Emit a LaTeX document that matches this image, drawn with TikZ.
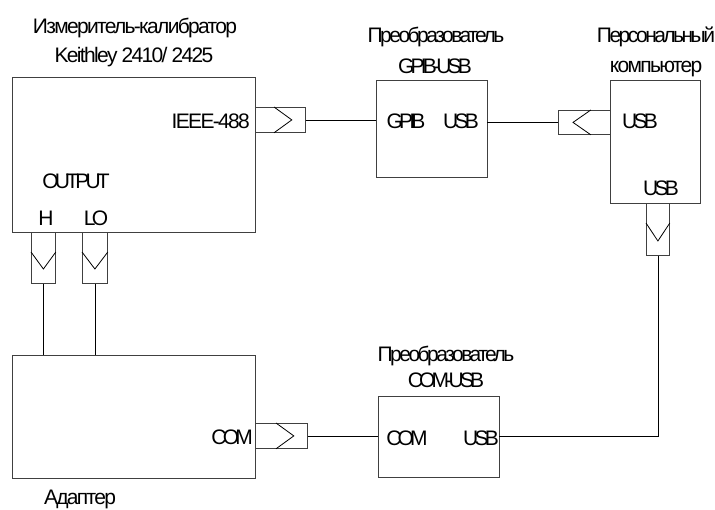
\documentclass[tikz,border=0pt]{standalone}
\usepackage{fontspec}
\setmainfont{Liberation Sans}
\newfontfamily\lowf[LetterSpace=-8]{Liberation Sans}
\newfontfamily\midf[LetterSpace=-12]{Liberation Sans}
\newfontfamily\capf[LetterSpace=-18]{Liberation Sans}
\begin{document}
\begin{tikzpicture}[x=1pt,y=-1pt,
  box/.style={draw=black!75, line width=0.9pt, rectangle, inner sep=0pt},
  port/.style={draw=black!75, line width=0.8pt, rectangle, inner sep=0pt},
  wire/.style={line width=0.8pt, black},
  chev/.style={line width=0.8pt, black},
  lw/.style={inner sep=0pt, font=\fontsize{21}{25}\lowf},
  lm/.style={inner sep=0pt, font=\fontsize{21}{25}\midf},
  lc/.style={inner sep=0pt, font=\fontsize{21}{25}\capf}]
\useasboundingbox (0,0) rectangle (715,509);
% boxes
\node[box, minimum width=243pt, minimum height=155pt] (keith) at (133.5,154.5) {};
\node[box, minimum width=111pt, minimum height=97pt] (gpib) at (431.5,128.5) {};
\node[box, minimum width=90pt, minimum height=123pt] (pc) at (655,141.5) {};
\node[box, minimum width=243pt, minimum height=123pt] (adapt) at (133.5,416.5) {};
\node[box, minimum width=121pt, minimum height=81pt] (comusb) at (438.5,436.5) {};
% ports
\node[port, minimum width=50pt, minimum height=25pt, anchor=north west] (pieee) at (255,107) {};
\node[port, minimum width=52pt, minimum height=24pt, anchor=north west] (ppcin) at (558,110) {};
\node[port, minimum width=23pt, minimum height=52pt, anchor=north west] (ppcout) at (646,203) {};
\node[port, minimum width=24pt, minimum height=51pt, anchor=north west] (ph) at (31,232) {};
\node[port, minimum width=25pt, minimum height=51pt, anchor=north west] (plo) at (82,232) {};
\node[port, minimum width=52pt, minimum height=25pt, anchor=north west] (pcom) at (255,423) {};
% chevrons
\draw[chev] ([xshift=19pt]pieee.north west) -- ([xshift=-14pt]pieee.east) -- ([xshift=19pt]pieee.south west);
\draw[chev] ([xshift=-20pt]ppcin.north east) -- ([xshift=15pt]ppcin.west) -- ([xshift=-20pt]ppcin.south east);
\draw[chev] ([yshift=-20pt]ppcout.north west) -- ([yshift=-38pt]ppcout.north) -- ([yshift=-20pt]ppcout.north east);
\draw[chev] ([yshift=-20pt]ph.north west) -- ([yshift=-37pt]ph.north) -- ([yshift=-20pt]ph.north east);
\draw[chev] ([yshift=-20pt]plo.north west) -- ([yshift=-37pt]plo.north) -- ([yshift=-20pt]plo.north east);
\draw[chev] ([xshift=21pt]pcom.north west) -- ([xshift=-14pt]pcom.east) -- ([xshift=21pt]pcom.south west);
% wires
\coordinate (corner) at (ppcout.south |- comusb.east);
\draw[wire] (pieee.east) -- (pieee.east -| gpib.west);
\draw[wire] (ppcin.west -| gpib.east) -- (ppcin.west);
\draw[wire] (ppcout.south) -- (corner) -- (comusb.east |- corner);
\draw[wire] (ph.south) -- (ph.south |- adapt.north);
\draw[wire] (plo.south) -- (plo.south |- adapt.north);
\draw[wire] (pcom.east) -- (pcom.east -| comusb.west);
% titles
\node[lw, anchor=base] (t1) at (135,33) {Измеритель-калибратор};
\node[lw, anchor=base] (t2) at (134,62) {Keithley 2410/ 2425};
\node[lm, anchor=base] (t3) at (436,42) {Преобразователь};
\node[lc, anchor=base] (t4) at (435,73) {GPIB-USB};
\node[lm, anchor=base] (t5) at (656,42) {Персональный};
\node[lw, anchor=base] (t6) at (656,72) {компьютер};
\node[lm, anchor=base] (t7) at (446,361) {Преобразователь};
\node[lc, anchor=base] (t8) at (446,387) {COM-USB};
\node[lw, anchor=base] (t9) at (80,504) {Адаптер};
% inner labels
\node[lw, anchor=base east] (l1) at (250,128) {IEEE-488};
\node[lc, anchor=base] (l2) at (76,188) {OUTPUT};
\node[lc, anchor=base] (l3) at (46,225) {H};
\node[lc, anchor=base] (l4) at (96,225) {LO};
\node[lc, anchor=base] (l5) at (406,128) {GPIB};
\node[lc, anchor=base] (l6) at (461,128) {USB};
\node[lc, anchor=base] (l7) at (640,128) {USB};
\node[lc, anchor=base] (l8) at (661,195) {USB};
\node[lc, anchor=base east] (l9) at (253,444) {COM};
\node[lc, anchor=base] (l10) at (407,445) {COM};
\node[lc, anchor=base] (l11) at (481,445) {USB};
\end{tikzpicture}
\end{document}
